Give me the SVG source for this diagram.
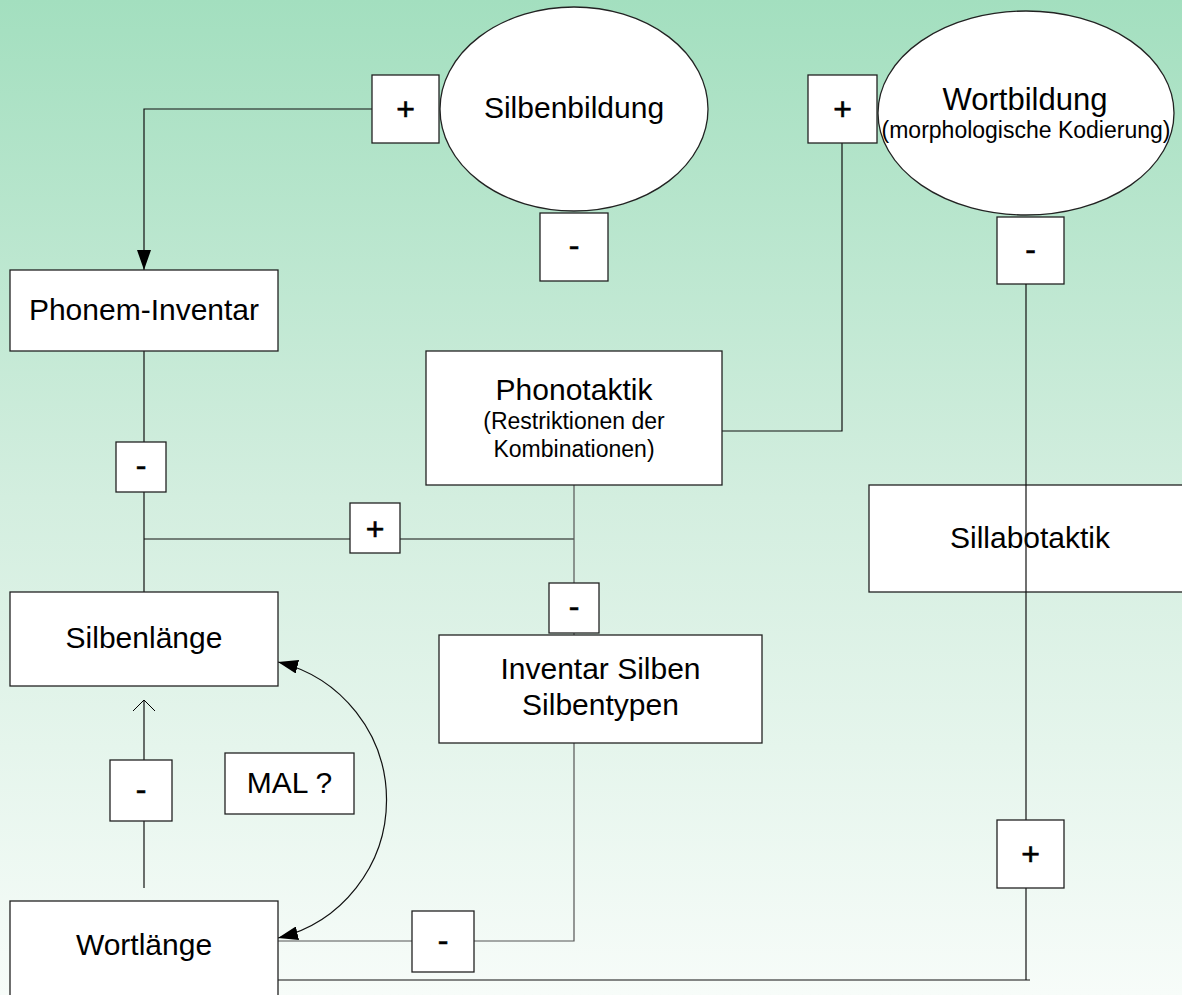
<svg xmlns="http://www.w3.org/2000/svg" width="1182" height="995" viewBox="0 0 1182 995">
  <defs>
    <linearGradient id="bg" x1="0" y1="0" x2="0" y2="1">
      <stop offset="0" stop-color="#a3dfbf"/>
      <stop offset="0.5" stop-color="#d3eedf"/>
      <stop offset="1" stop-color="#f7fcf9"/>
    </linearGradient>
    <marker id="solid" viewBox="0 0 20 14" refX="20" refY="7" markerWidth="20" markerHeight="14" markerUnits="userSpaceOnUse" orient="auto-start-reverse">
      <path d="M0,0 L20,7 L0,14 Z" fill="#000"/>
    </marker>
    <marker id="open" viewBox="0 0 12 24" refX="11" refY="12" markerWidth="12" markerHeight="24" markerUnits="userSpaceOnUse" orient="auto">
      <path d="M0,1 L11,12 L0,23" fill="none" stroke="#000" stroke-width="1"/>
    </marker>
  </defs>
  <style>
    .box { fill: #fff; stroke: #222; stroke-width: 1.3; }
    .line { fill: none; stroke: #111; stroke-width: 1.2; }
    .gray { stroke: #555; }
    .t { font-family: "Liberation Sans", Arial, sans-serif; fill: #000; text-anchor: middle; }
    .big { font-size: 30px; }
    .small { font-size: 23px; }
    .sign { font-size: 32px; stroke: #000; stroke-width: 0.6; }
  </style>

  <rect x="0" y="0" width="1182" height="995" fill="url(#bg)"/>

  <!-- connectors -->
  <g id="connectors">
    <path class="line" d="M372,109 H144 V270" marker-end="url(#solid)"/>
    <path class="line" d="M144,351 V592"/>
    <path class="line" d="M144,539 H574"/>
    <path class="line gray" d="M574,485 V635"/>
    <path class="line" d="M722,431 H842 V143"/>
    <path class="line gray" d="M574,743 V941 H278"/>
    <path class="line" d="M144,888 V700" marker-end="url(#open)"/>
    <path class="line" d="M278,662 A142,142 0 0 1 278,938" marker-start="url(#solid)" marker-end="url(#solid)"/>
    <path class="line" d="M278,980 H1030"/>
  </g>

  <g id="silbenbildung">
    <ellipse class="box" cx="574" cy="109" rx="134" ry="102"/>
    <text class="t big" x="574" y="118">Silbenbildung</text>
  </g>
  <g id="silbenbildung-plus">
    <rect class="box" x="372" y="75" width="67" height="68"/>
    <text class="t sign" x="405.5" y="120">+</text>
  </g>
  <g id="silbenbildung-minus">
    <rect class="box" x="540" y="213" width="68" height="68"/>
    <text class="t sign" x="574" y="256">-</text>
  </g>

  <g id="wortbildung">
    <ellipse class="box" cx="1026" cy="113" rx="148" ry="102"/>
    <text class="t" x="1025" y="110" font-size="31">Wortbildung</text>
    <text class="t small" x="1026" y="138">(morphologische Kodierung)</text>
  </g>
  <g id="wortbildung-plus">
    <rect class="box" x="808" y="75" width="69" height="68"/>
    <text class="t sign" x="842.5" y="120">+</text>
  </g>
  <g id="wortbildung-minus">
    <rect class="box" x="997" y="217" width="67" height="67"/>
    <text class="t sign" x="1030.5" y="260">-</text>
  </g>

  <g id="phonem-inventar">
    <rect class="box" x="10" y="270" width="268" height="81"/>
    <text class="t big" x="144" y="320">Phonem-Inventar</text>
  </g>
  <g id="phonem-minus">
    <rect class="box" x="116" y="442" width="50" height="50"/>
    <text class="t sign" x="141" y="476">-</text>
  </g>
  <g id="phonotaktik-plus">
    <rect class="box" x="350" y="503" width="50" height="50"/>
    <text class="t sign" x="375" y="540">+</text>
  </g>

  <g id="phonotaktik">
    <rect class="box" x="426" y="351" width="296" height="134"/>
    <text class="t big" x="574" y="400">Phonotaktik</text>
    <text class="t small" x="574" y="429">(Restriktionen der</text>
    <text class="t small" x="574" y="457">Kombinationen)</text>
  </g>
  <g id="phonotaktik-minus">
    <rect class="box" x="549" y="583" width="50" height="50"/>
    <text class="t sign" x="574" y="617">-</text>
  </g>

  <g id="inventar-silben">
    <rect class="box" x="439" y="635" width="323" height="108"/>
    <text class="t big" x="600.5" y="679">Inventar Silben</text>
    <text class="t big" x="600.5" y="715">Silbentypen</text>
  </g>

  <g id="sillabotaktik">
    <rect class="box" x="869" y="485" width="325" height="107"/>
    <text class="t big" x="1030" y="548">Sillabotaktik</text>
  </g>
  <!-- vertical connector drawn over the Sillabotaktik box -->
  <path class="line" d="M1026,284 V980"/>
  <g id="sillabotaktik-plus">
    <rect class="box" x="997" y="820" width="67" height="68"/>
    <text class="t sign" x="1030.5" y="865">+</text>
  </g>

  <g id="silbenlaenge">
    <rect class="box" x="10" y="592" width="268" height="94"/>
    <text class="t big" x="144" y="648">Silbenlänge</text>
  </g>
  <g id="wortlaenge-minus">
    <rect class="box" x="110" y="760" width="62" height="61"/>
    <text class="t sign" x="141" y="800">-</text>
  </g>
  <g id="mal">
    <rect class="box" x="225" y="753" width="129" height="61"/>
    <text class="t big" x="289.5" y="793">MAL ?</text>
  </g>
  <g id="inventar-minus">
    <rect class="box" x="412" y="911" width="62" height="61"/>
    <text class="t sign" x="443" y="951">-</text>
  </g>

  <g id="wortlaenge">
    <rect class="box" x="10" y="901" width="268" height="100"/>
    <text class="t big" x="144" y="955">Wortlänge</text>
  </g>
</svg>
